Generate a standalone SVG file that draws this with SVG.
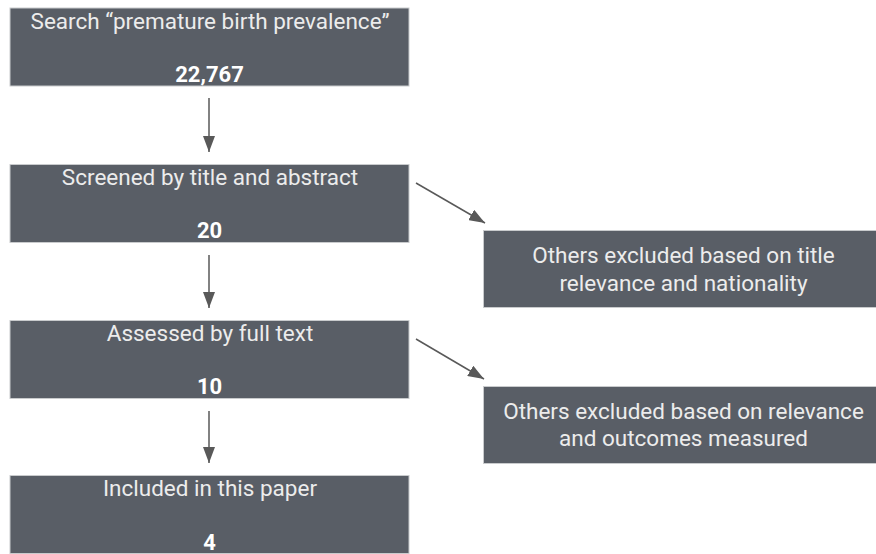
<svg xmlns="http://www.w3.org/2000/svg" width="876" height="554" viewBox="0 0 876 554">
<style>
.box{fill:#595e66;stroke:#c9cbcd;stroke-width:1}
.t{font-family:Roboto,"Liberation Sans",sans-serif;font-size:22.5px;fill:#ececec;text-anchor:middle}
.n{font-family:Roboto,"Liberation Sans",sans-serif;font-size:22px;font-weight:bold;fill:#ffffff;text-anchor:middle}
.c{stroke:#595959;stroke-width:1.5;fill:none}
</style>
<defs>
<marker id="ah" viewBox="0 0 16 12" refX="16" refY="6" markerWidth="16" markerHeight="12" markerUnits="userSpaceOnUse" orient="auto">
<path d="M0,0 L16,6 L0,12 z" fill="#595959"/>
</marker>
</defs>
<g id="n1"><rect class="box" x="10" y="8" width="399" height="78"/>
<text class="t" x="210" y="29">Search “premature birth prevalence”</text>
<text class="n" x="209.5" y="82">22,767</text></g>
<g id="n2"><rect class="box" x="10" y="164.5" width="399" height="78"/>
<text class="t" x="210" y="185">Screened by title and abstract</text>
<text class="n" x="209.5" y="238">20</text></g>
<g id="n3"><rect class="box" x="10" y="320.5" width="399" height="78"/>
<text class="t" x="210" y="341">Assessed by full text</text>
<text class="n" x="209.5" y="394">10</text></g>
<g id="n4"><rect class="box" x="10" y="475.5" width="399" height="78"/>
<text class="t" x="210" y="496">Included in this paper</text>
<text class="n" x="209.5" y="550">4</text></g>
<g id="n5"><rect class="box" x="483.5" y="230.5" width="400" height="77"/>
<text class="t" x="683.5" y="263">Others excluded based on title</text>
<text class="t" x="683.5" y="291">relevance and nationality</text></g>
<g id="n6"><rect class="box" x="483.5" y="386.5" width="400" height="77"/>
<text class="t" x="683.5" y="419">Others excluded based on relevance</text>
<text class="t" x="683.5" y="446">and outcomes measured</text></g>
<g id="connectors">
<line class="c" x1="209" y1="98" x2="209" y2="152" marker-end="url(#ah)"/>
<line class="c" x1="209" y1="255" x2="209" y2="308" marker-end="url(#ah)"/>
<line class="c" x1="209" y1="411" x2="209" y2="463" marker-end="url(#ah)"/>
<line class="c" x1="416" y1="183" x2="485" y2="223" marker-end="url(#ah)"/>
<line class="c" x1="416" y1="339" x2="484" y2="379" marker-end="url(#ah)"/>
</g>
</svg>
